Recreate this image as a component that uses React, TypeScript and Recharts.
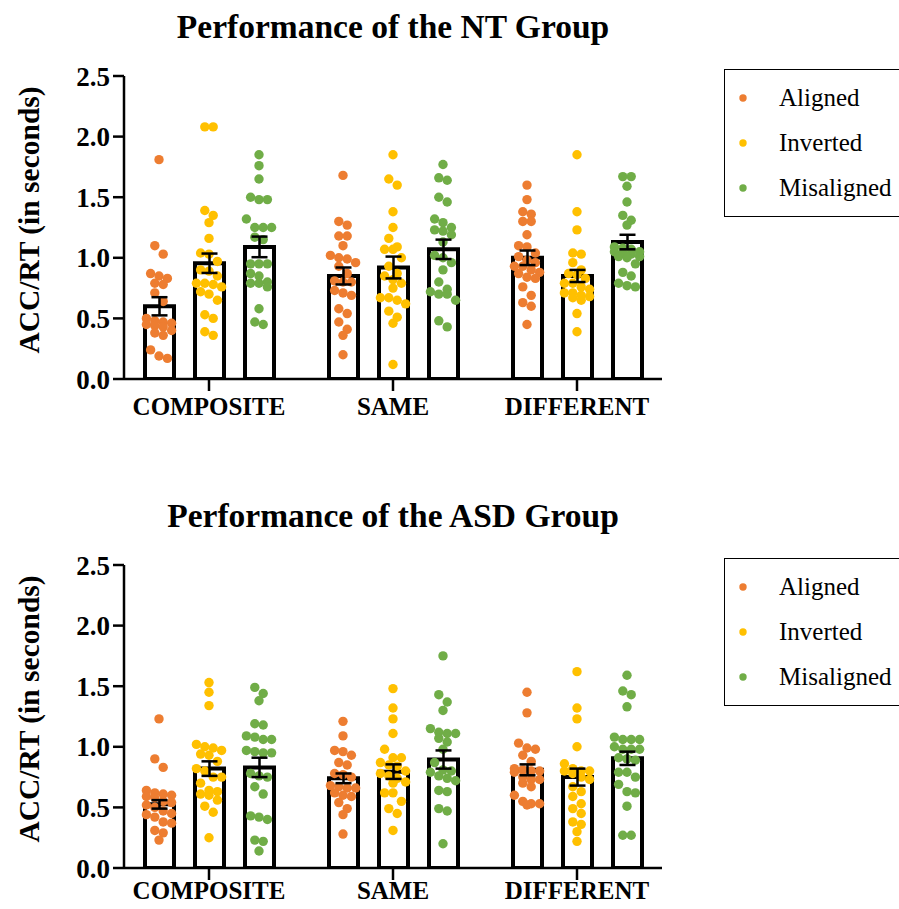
import React from "react";
import {
  ComposedChart,
  Bar,
  Scatter,
  XAxis,
  YAxis,
  ErrorBar,
  Legend,
} from "recharts";

const groups = ["COMPOSITE", "SAME", "DIFFERENT"];
const conditions = ["Aligned", "Inverted", "Misaligned"];
const colors = ["#ED7D31", "#FFC000", "#70AD47"];
const yTicks = [0, 0.5, 1, 1.5, 2, 2.5];

// NT group: bar means and SEM (composite, same, different)
const ntAlignedMean = [0.6, 0.85, 1.0];
const ntInvertedMean = [0.955, 0.92, 0.85];
const ntMisalignedMean = [1.09, 1.07, 1.13];
const ntAlignedSem = [0.075, 0.07, 0.06];
const ntInvertedSem = [0.08, 0.09, 0.05];
const ntMisalignedSem = [0.085, 0.08, 0.06];

// NT group: individual participants
const ntCompAligned = [1.81, 1.1, 1.03, 0.87, 0.85, 0.83, 0.79, 0.78, 0.71, 0.64, 0.5, 0.48, 0.47, 0.46, 0.45, 0.44, 0.43, 0.4, 0.38, 0.36, 0.24, 0.19, 0.17];
const ntCompInverted = [2.08, 2.08, 1.39, 1.35, 1.29, 1.16, 1.04, 1.03, 0.97, 0.9, 0.89, 0.85, 0.79, 0.79, 0.78, 0.76, 0.72, 0.7, 0.65, 0.53, 0.5, 0.39, 0.36];
const ntCompMisaligned = [1.85, 1.76, 1.65, 1.5, 1.48, 1.48, 1.32, 1.25, 1.25, 1.25, 1.17, 1.15, 0.95, 0.95, 0.95, 0.87, 0.85, 0.8, 0.79, 0.79, 0.76, 0.58, 0.47, 0.45];
const ntSameAligned = [1.68, 1.3, 1.27, 1.18, 1.18, 1.1, 1.02, 1.0, 0.99, 0.96, 0.93, 0.87, 0.81, 0.8, 0.8, 0.73, 0.71, 0.69, 0.58, 0.54, 0.47, 0.41, 0.36, 0.2];
const ntSameInverted = [1.85, 1.65, 1.6, 1.38, 1.25, 1.16, 1.09, 1.07, 1.07, 1.0, 0.93, 0.87, 0.85, 0.82, 0.79, 0.75, 0.67, 0.67, 0.65, 0.62, 0.56, 0.51, 0.46, 0.12];
const ntSameMisaligned = [1.77, 1.66, 1.64, 1.5, 1.46, 1.32, 1.29, 1.25, 1.23, 1.22, 1.19, 1.13, 1.02, 1.0, 0.96, 0.9, 0.8, 0.74, 0.72, 0.7, 0.7, 0.65, 0.48, 0.43];
const ntDiffAligned = [1.6, 1.48, 1.38, 1.36, 1.3, 1.3, 1.19, 1.1, 1.09, 1.04, 1.01, 0.98, 0.96, 0.93, 0.93, 0.9, 0.88, 0.87, 0.84, 0.83, 0.76, 0.69, 0.63, 0.6, 0.45];
const ntDiffInverted = [1.85, 1.38, 1.23, 1.04, 1.03, 0.96, 0.9, 0.87, 0.86, 0.83, 0.79, 0.79, 0.76, 0.74, 0.71, 0.71, 0.69, 0.68, 0.67, 0.65, 0.54, 0.39];
const ntDiffMisaligned = [1.67, 1.67, 1.59, 1.46, 1.35, 1.31, 1.27, 1.09, 1.08, 1.07, 1.05, 1.05, 1.04, 1.03, 1.01, 1.01, 1.0, 0.95, 0.88, 0.85, 0.79, 0.77, 0.76];

// ASD group: bar means and SEM
const asdAlignedMean = [0.525, 0.74, 0.81];
const asdInvertedMean = [0.82, 0.795, 0.75];
const asdMisalignedMean = [0.83, 0.895, 0.905];
const asdAlignedSem = [0.035, 0.04, 0.045];
const asdInvertedSem = [0.06, 0.06, 0.07];
const asdMisalignedSem = [0.08, 0.075, 0.055];

// ASD group: individual participants
const asdCompAligned = [1.23, 0.9, 0.83, 0.64, 0.62, 0.61, 0.6, 0.59, 0.58, 0.55, 0.54, 0.52, 0.5, 0.47, 0.45, 0.44, 0.42, 0.38, 0.37, 0.31, 0.29, 0.23];
const asdCompInverted = [1.53, 1.45, 1.34, 1.02, 1.0, 0.99, 0.97, 0.94, 0.93, 0.88, 0.82, 0.8, 0.75, 0.75, 0.7, 0.64, 0.63, 0.61, 0.6, 0.56, 0.51, 0.46, 0.25];
const asdCompMisaligned = [1.49, 1.44, 1.38, 1.19, 1.18, 1.09, 1.08, 1.06, 1.06, 0.97, 0.96, 0.95, 0.95, 0.78, 0.76, 0.75, 0.67, 0.61, 0.43, 0.42, 0.4, 0.23, 0.22, 0.14];
const asdSameAligned = [1.21, 1.09, 0.97, 0.96, 0.93, 0.87, 0.85, 0.78, 0.77, 0.75, 0.68, 0.67, 0.66, 0.66, 0.62, 0.6, 0.59, 0.54, 0.49, 0.44, 0.28];
const asdSameInverted = [1.48, 1.32, 1.23, 1.11, 0.98, 0.91, 0.91, 0.87, 0.85, 0.84, 0.8, 0.78, 0.76, 0.74, 0.71, 0.7, 0.62, 0.62, 0.55, 0.49, 0.45, 0.31];
const asdSameMisaligned = [1.75, 1.43, 1.37, 1.3, 1.15, 1.12, 1.11, 1.11, 1.07, 1.04, 0.98, 0.87, 0.81, 0.8, 0.79, 0.76, 0.74, 0.72, 0.64, 0.63, 0.49, 0.47, 0.2];
const asdDiffAligned = [1.45, 1.28, 1.03, 0.99, 0.98, 0.93, 0.88, 0.82, 0.81, 0.8, 0.8, 0.79, 0.75, 0.73, 0.73, 0.7, 0.67, 0.6, 0.55, 0.53, 0.53, 0.52];
const asdDiffInverted = [1.62, 1.32, 1.23, 1.0, 0.86, 0.82, 0.8, 0.8, 0.8, 0.78, 0.75, 0.73, 0.67, 0.63, 0.59, 0.53, 0.49, 0.45, 0.38, 0.36, 0.3, 0.22];
const asdDiffMisaligned = [1.59, 1.46, 1.43, 1.33, 1.08, 1.06, 1.06, 1.06, 1.0, 0.98, 0.98, 0.98, 0.91, 0.9, 0.89, 0.79, 0.79, 0.75, 0.69, 0.63, 0.62, 0.51, 0.27, 0.27];

const FONT = '"Liberation Serif", "Times New Roman", serif';
const WIDTH = 899;
const PLOT_TOP = 76;
const PLOT_BOTTOM = 379;
const Y_MAX = 2.5;
const PX_PER_UNIT = (PLOT_BOTTOM - PLOT_TOP) / Y_MAX;
const BAR_SIZE = 29;
const BAR_GAP = 21;
const DOT_R = 4.7;
const DOT_STEP = 8.4;
const ROW_PX = 8.5;
const MAX_ROW = 4;

type Pt = { gx: number; v: number; dx: number };

// simple beeswarm: bin sorted values into rows and centre each row on the bar
function swarm(values: number[], group: number, lane: number): Pt[] {
  const sorted = [...values].sort((a, b) => b - a);
  const rows: number[][] = [];
  for (const v of sorted) {
    const row = rows[rows.length - 1];
    if (row && row.length < MAX_ROW && (row[0] - v) * PX_PER_UNIT < ROW_PX) row.push(v);
    else rows.push([v]);
  }
  const laneOffset = (lane - 1) * (BAR_SIZE + BAR_GAP);
  return rows.flatMap((row) =>
    row.map((v, i) => ({ gx: group + 0.5, v, dx: laneOffset + (i - (row.length - 1) / 2) * DOT_STEP }))
  );
}

function buildRows(means: number[][], sems: number[][]) {
  return groups.map((g, i) => {
    const row: Record<string, number | string> = { group: g };
    conditions.forEach((c, k) => {
      row[c] = means[k][i];
      row[c + "Err"] = sems[k][i];
    });
    return row;
  });
}

const LegendBox = () => (
  <div
    style={{
      position: "relative",
      width: 180,
      height: 148,
      border: "1.5px solid #000",
      boxSizing: "border-box",
      background: "#fff",
      fontFamily: FONT,
      fontSize: 25,
      color: "#000",
    }}
  >
    {conditions.map((c, i) => (
      <div
        key={c}
        style={{ position: "absolute", left: 0, top: 28 + i * 45 - 15, height: 30, display: "flex", alignItems: "center" }}
      >
        <svg width={36} height={30}>
          <circle cx={18} cy={15} r={3.7} fill={colors[i]} />
        </svg>
        <span style={{ marginLeft: 18, lineHeight: "30px" }}>{c}</span>
      </div>
    ))}
  </div>
);

type PanelProps = {
  title: string;
  height: number;
  labelGap: number;
  rows: Record<string, number | string>[];
  points: number[][][];
};

const Panel = ({ title, height, labelGap, rows, points }: PanelProps) => {
  const axisStroke = { stroke: "#000", strokeWidth: 2.5 };
  return (
    <ComposedChart
      width={WIDTH}
      height={height}
      data={rows}
      barGap={BAR_GAP}
      margin={{ top: PLOT_TOP, right: WIDTH - 662, bottom: height - PLOT_BOTTOM - 40, left: 64 }}
    >
      <text x={393} y={38} textAnchor="middle" fontFamily={FONT} fontSize={33.5} fontWeight="bold" fill="#000">
        {title}
      </text>
      <text
        transform="translate(39,220) rotate(-90)"
        textAnchor="middle"
        fontFamily={FONT}
        fontSize={29.5}
        fontWeight="bold"
        fill="#000"
      >
        ACC/RT (in seconds)
      </text>
      <XAxis
        xAxisId="g"
        dataKey="group"
        type="category"
        padding={{ left: -7, right: -7 }}
        height={40}
        interval={0}
        tickSize={12}
        tickMargin={labelGap}
        axisLine={axisStroke}
        tickLine={axisStroke}
        tick={{ fill: "#000", fontSize: 25, fontWeight: "bold", fontFamily: FONT }}
      />
      <XAxis xAxisId="e" dataKey="group" type="category" hide height={0} padding={{ left: -7, right: -7 }} />
      <XAxis
        xAxisId="s"
        dataKey="gx"
        type="number"
        domain={[0, 3]}
        allowDataOverflow
        hide
        height={0}
        padding={{ left: -7, right: -7 }}
      />
      <YAxis
        domain={[0, Y_MAX]}
        ticks={yTicks}
        allowDataOverflow
        width={60}
        tickSize={11}
        tickMargin={3}
        tickFormatter={(v: number) => v.toFixed(1)}
        axisLine={axisStroke}
        tickLine={axisStroke}
        tick={{ fill: "#000", fontSize: 27, fontWeight: "bold", fontFamily: FONT }}
      />
      {conditions.map((c) => (
        <Bar
          key={"bar" + c}
          xAxisId="g"
          dataKey={c}
          barSize={BAR_SIZE}
          fill="#fff"
          stroke="#000"
          strokeWidth={4}
          isAnimationActive={false}
        />
      ))}
      {conditions.map((c, k) => (
        <Scatter
          key={"dots" + c}
          xAxisId="s"
          dataKey="v"
          data={points[k].flatMap((vals, gi) => swarm(vals, gi, k))}
          isAnimationActive={false}
          shape={(p: any) => <circle cx={p.cx + p.payload.dx} cy={p.cy} r={DOT_R} fill={colors[k]} />}
        />
      ))}
      {conditions.map((c) => (
        <Bar
          key={"err" + c}
          xAxisId="e"
          dataKey={c}
          barSize={BAR_SIZE}
          fill="none"
          stroke="none"
          isAnimationActive={false}
          zIndex={700}
        >
          <ErrorBar dataKey={c + "Err"} direction="y" width={8} stroke="#000" strokeWidth={2.5} zIndex={700} />
        </Bar>
      ))}
      <Legend
        layout="vertical"
        align="center"
        verticalAlign="middle"
        wrapperStyle={{ left: 724, top: 69, width: 180, height: 148 }}
        content={() => <LegendBox />}
      />
    </ComposedChart>
  );
};

const ntRows = buildRows(
  [ntAlignedMean, ntInvertedMean, ntMisalignedMean],
  [ntAlignedSem, ntInvertedSem, ntMisalignedSem]
);
const asdRows = buildRows(
  [asdAlignedMean, asdInvertedMean, asdMisalignedMean],
  [asdAlignedSem, asdInvertedSem, asdMisalignedSem]
);

export default function App() {
  return (
    <div
      style={{ position: "absolute", left: 0, top: 0, width: 899, height: 909, overflow: "hidden", background: "#fff" }}
    >
      <Panel
        title="Performance of the NT Group"
        height={489}
        labelGap={6}
        rows={ntRows}
        points={[
          [ntCompAligned, ntSameAligned, ntDiffAligned],
          [ntCompInverted, ntSameInverted, ntDiffInverted],
          [ntCompMisaligned, ntSameMisaligned, ntDiffMisaligned],
        ]}
      />
      <Panel
        title="Performance of the ASD Group"
        height={420}
        labelGap={1}
        rows={asdRows}
        points={[
          [asdCompAligned, asdSameAligned, asdDiffAligned],
          [asdCompInverted, asdSameInverted, asdDiffInverted],
          [asdCompMisaligned, asdSameMisaligned, asdDiffMisaligned],
        ]}
      />
    </div>
  );
}
